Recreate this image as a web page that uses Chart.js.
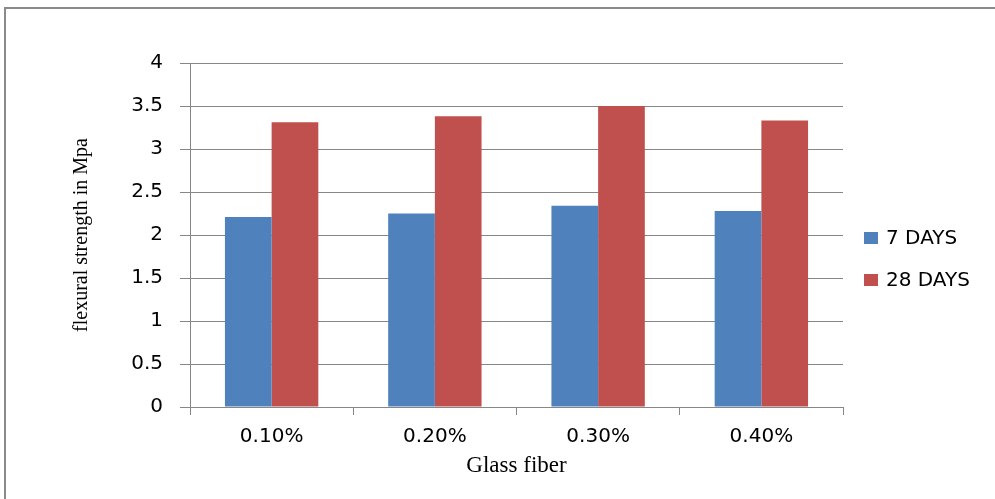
<!DOCTYPE html>
<html>
<head>
<meta charset="utf-8">
<script src="https://cdn.jsdelivr.net/npm/chart.js@4.4.0/dist/chart.umd.min.js"></script>
<style>
  html, body { margin: 0; padding: 0; background: #ffffff; overflow: hidden; }
  #wrap { position: relative; width: 995px; height: 499px; }
  #frame {
    position: absolute; left: 4px; top: 7px; width: 1000px; height: 600px;
    border-left: 2px solid #8a8a8a; border-top: 2px solid #8a8a8a;
  }
  #flexChart { position: absolute; left: 0; top: 0; }
</style>
</head>
<body>
<div id="wrap">
  <div id="frame"></div>
  <canvas id="flexChart" width="995" height="499"></canvas>
</div>
<script>
// values
const fiberLabels = ["0.10%", "0.20%", "0.30%", "0.40%"];
const days7 = [2.21, 2.25, 2.34, 2.28];
const days28 = [3.31, 3.38, 3.50, 3.33];
const seriesNames = ["7 DAYS", "28 DAYS"];
const seriesColors = ["#4f81bd", "#c0504d"];

const gridGray = "#878787";

// Legend drawn by hand so it can sit where the original one sits
const sideLegend = {
  id: "sideLegend",
  afterDraw: (chart, args, opts) => {
    const { ctx } = chart;
    ctx.save();
    ctx.font = opts.font;
    ctx.textBaseline = "middle";
    ctx.textAlign = "left";
    chart.data.datasets.forEach((ds, i) => {
      const y = opts.top + i * opts.rowGap;
      ctx.fillStyle = ds.backgroundColor;
      ctx.fillRect(opts.left, y - opts.boxH / 2, opts.boxW, opts.boxH);
      ctx.fillStyle = "#000000";
      ctx.fillText(ds.label, opts.left + opts.boxW + 8, y + 1);
    });
    ctx.restore();
  },
};

const ctx = document.getElementById("flexChart").getContext("2d");

new Chart(ctx, {
  type: "bar",
  data: {
    labels: fiberLabels,
    datasets: [
      {
        label: seriesNames[0],
        data: days7,
        backgroundColor: seriesColors[0],
        categoryPercentage: 0.572,
        barPercentage: 1.0,
      },
      {
        label: seriesNames[1],
        data: days28,
        backgroundColor: seriesColors[1],
        categoryPercentage: 0.572,
        barPercentage: 1.0,
      },
    ],
  },
  options: {
    responsive: false,
    animation: false,
    layout: {
      padding: { left: 0, top: 63, right: 152, bottom: 0 },
    },
    plugins: {
      legend: { display: false },
      tooltip: { enabled: false },
      sideLegend: {
        left: 864,
        top: 238,
        rowGap: 42,
        boxW: 14,
        boxH: 12,
        font: "20px 'DejaVu Sans'",
      },
    },
    scales: {
      x: {
        afterFit: (scale) => { scale.height = 92; },
        grid: {
          offset: true,
          drawOnChartArea: false,
          color: gridGray,
          tickLength: 8,
        },
        border: { color: gridGray, width: 1 },
        ticks: {
          color: "#000000",
          padding: 10,
          font: { family: "DejaVu Sans", size: 20 },
        },
        title: {
          display: true,
          text: "Glass fiber",
          color: "#000000",
          font: { family: "Liberation Serif", size: 23 },
          padding: { top: 0, bottom: 19 },
        },
      },
      y: {
        min: 0,
        max: 4,
        afterFit: (scale) => { scale.width = 190; },
        grid: {
          color: gridGray,
          tickLength: 10,
        },
        border: { color: gridGray, width: 1 },
        ticks: {
          stepSize: 0.5,
          color: "#000000",
          padding: 17,
          font: { family: "DejaVu Sans", size: 20 },
          callback: (value) => String(Number(value)),
        },
        title: {
          display: true,
          text: "flexural strength in Mpa",
          color: "#000000",
          font: { family: "Liberation Serif", size: 20 },
          padding: { top: 70, bottom: 0 },
        },
      },
    },
  },
  plugins: [sideLegend],
});
</script>
</body>
</html>
